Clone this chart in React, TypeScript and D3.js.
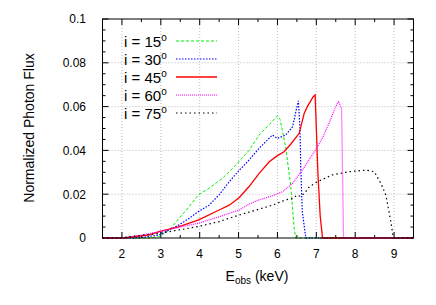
import React from "react";
import * as d3 from "d3";

// energy grid (keV) and normalized flux
const e15 = [1.5, 2.7, 2.96, 3.22, 3.47, 3.73, 3.96, 4.24, 4.59, 4.93, 5.27, 5.53, 5.8, 6.0, 6.07, 6.21, 6.34, 6.43, 6.47, 9.5];
const f15 = [0, 0, 0.0006, 0.0037, 0.009, 0.0143, 0.0196, 0.0227, 0.0273, 0.0333, 0.04, 0.047, 0.052, 0.0558, 0.054, 0.0417, 0.0242, 0.0046, 0, 0];

const e30 = [1.5, 2.3, 2.6, 2.96, 3.22, 3.47, 3.73, 3.96, 4.24, 4.5, 4.76, 5.02, 5.27, 5.53, 5.87, 6.0, 6.07, 6.21, 6.39, 6.49, 6.54, 6.58, 6.6, 6.64, 6.73, 9.5];
const f30 = [0, 0, 0.0005, 0.0014, 0.0037, 0.006, 0.009, 0.012, 0.015, 0.0197, 0.0257, 0.031, 0.0356, 0.041, 0.047, 0.0455, 0.046, 0.047, 0.0508, 0.059, 0.0626, 0.05, 0.032, 0.012, 0, 0];

const e45 = [1.5, 2.05, 2.4, 2.7, 2.96, 3.47, 3.96, 4.5, 4.76, 5.02, 5.27, 5.53, 5.79, 6.0, 6.17, 6.34, 6.56, 6.69, 6.77, 6.92, 6.97, 7.04, 7.1, 7.16, 9.5];
const f45 = [0, 0, 0.0008, 0.0014, 0.0029, 0.0052, 0.0082, 0.0128, 0.015, 0.0185, 0.0235, 0.0295, 0.0348, 0.0376, 0.0394, 0.0428, 0.0478, 0.057, 0.06, 0.0645, 0.0653, 0.03, 0.01, 0, 0];

const e60 = [1.5, 2.0, 2.5, 2.96, 3.47, 3.96, 4.5, 5.02, 5.27, 5.53, 5.87, 6.13, 6.39, 6.64, 6.86, 7.03, 7.16, 7.33, 7.46, 7.57, 7.65, 7.7, 9.5];
const f60 = [0, 0, 0.0013, 0.0029, 0.0049, 0.0067, 0.0097, 0.0128, 0.0155, 0.0174, 0.0193, 0.0211, 0.025, 0.031, 0.037, 0.0417, 0.0457, 0.0525, 0.0584, 0.0625, 0.059, 0, 0];

const e75 = [1.5, 1.9, 2.5, 2.96, 3.47, 3.96, 4.5, 5.02, 5.53, 5.87, 6.21, 6.39, 6.5, 6.6, 6.7, 6.82, 7.03, 7.41, 7.85, 8.27, 8.49, 8.66, 8.79, 8.87, 8.94, 8.98, 9.5];
const f75 = [0, 0, 0.0012, 0.0021, 0.0037, 0.0052, 0.0075, 0.0105, 0.0132, 0.015, 0.0174, 0.018, 0.0195, 0.019, 0.0205, 0.0234, 0.0257, 0.0288, 0.0303, 0.031, 0.0303, 0.025, 0.0196, 0.012, 0.005, 0, 0];

const labels = ["15", "30", "45", "60", "75"];
const xTicks = [2, 3, 4, 5, 6, 7, 8, 9];
const yTicks = [0, 0.02, 0.04, 0.06, 0.08, 0.1];
const yTickLabels = ["0", "0.02", "0.04", "0.06", "0.08", "0.1"];

const series = [
  { e: e15, f: f15, color: "#00ee00", dash: "3,2", w: 1 },
  { e: e30, f: f30, color: "#0000ff", dash: "1.5,1.5", w: 1.2 },
  { e: e45, f: f45, color: "#ff0000", dash: null, w: 1.3 },
  { e: e60, f: f60, color: "#ff00ff", dash: "1,1", w: 1.2 },
  { e: e75, f: f75, color: "#000000", dash: "1.5,3", w: 1.2 },
];

export default function App() {
  const left = 102.5, right = 413.5, top = 19, bottom = 238;
  const x = d3.scaleLinear().domain([1.5, 9.5]).range([left, right]);
  const y = d3.scaleLinear().domain([0, 0.1]).range([bottom, top]);
  const font = "'Liberation Sans', Arial, Helvetica, sans-serif";

  const xMinor = d3.range(1.5, 9.51, 0.5);
  const yMinor = d3.range(0, 0.1001, 0.005);

  return (
    <svg width={436} height={305} style={{ position: "absolute", left: 0, top: 0 }} fontFamily={font}>
      <rect width={436} height={305} fill="#fff" />
      {/* grid */}
      {xTicks.map((t) => (
        <line key={"gx" + t} x1={x(t)} x2={x(t)} y1={top} y2={bottom} stroke="#aaa" strokeWidth={0.8} strokeDasharray="1,2" />
      ))}
      {yTicks.slice(1, -1).map((t) => (
        <line key={"gy" + t} x1={left} x2={right} y1={y(t)} y2={y(t)} stroke="#aaa" strokeWidth={0.8} strokeDasharray="1,2" />
      ))}
      {/* ticks on all sides, inward */}
      {xMinor.map((t) => {
        const major = Math.abs(t - Math.round(t)) < 1e-6;
        const len = major ? 6 : 3;
        return (
          <g key={"tx" + t}>
            <line x1={x(t)} x2={x(t)} y1={bottom} y2={bottom - len} stroke="#000" />
            <line x1={x(t)} x2={x(t)} y1={top} y2={top + len} stroke="#000" />
          </g>
        );
      })}
      {yMinor.map((t, i) => {
        const len = i % 4 === 0 ? 6 : 3;
        return (
          <g key={"ty" + i}>
            <line x1={left} x2={left + len} y1={y(t)} y2={y(t)} stroke="#000" />
            <line x1={right} x2={right - len} y1={y(t)} y2={y(t)} stroke="#000" />
          </g>
        );
      })}
      {/* curves */}
      {series.map((s, i) => {
        const pts = s.e.map((e, j) => [x(e), y(s.f[j])] as [number, number]);
        return (
          <path key={"s" + i} d={d3.line()(pts) || ""} fill="none" stroke={s.color} strokeWidth={s.w}
            strokeDasharray={s.dash || undefined} />
        );
      })}
      <rect x={left} y={top} width={right - left} height={bottom - top} fill="none" stroke="#000" strokeWidth={1} />
      {/* tick labels */}
      {xTicks.map((t) => (
        <text key={"lx" + t} x={x(t)} y={258} fontSize={12} textAnchor="middle">{t}</text>
      ))}
      {yTicks.map((t, i) => (
        <text key={"ly" + t} x={86} y={y(t) + 4.3} fontSize={12} textAnchor="end">{yTickLabels[i]}</text>
      ))}
      {/* axis titles */}
      <text x={257} y={281} fontSize={14} textAnchor="middle">
        E<tspan fontSize={10} dy={3}>obs</tspan><tspan dy={-3}> (keV)</tspan>
      </text>
      <text transform="translate(34,128) rotate(-90)" fontSize={14} textAnchor="middle">Normalized Photon Flux</text>
      {/* legend */}
      {series.map((s, i) => {
        const ly = 41 + i * 18;
        return (
          <g key={"lg" + i}>
            <text x={124} y={ly + 6} fontSize={15}>
              i = {labels[i]}<tspan fontSize={10} dy={-6}>o</tspan>
            </text>
            <line x1={176} x2={217} y1={ly} y2={ly} stroke={s.color} strokeWidth={s.w} strokeDasharray={s.dash || undefined} />
          </g>
        );
      })}
    </svg>
  );
}
